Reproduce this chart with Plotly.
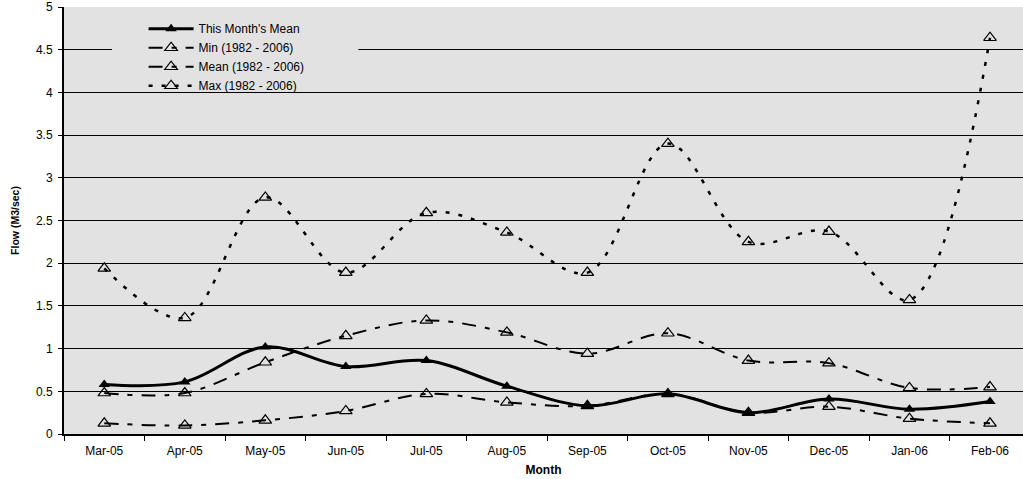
import plotly.graph_objects as go

# Monthly flow summary, March 2005 - February 2006
months = ["Mar-05", "Apr-05", "May-05", "Jun-05", "Jul-05", "Aug-05",
          "Sep-05", "Oct-05", "Nov-05", "Dec-05", "Jan-06", "Feb-06"]
this_month_mean = [0.58, 0.61, 1.02, 0.79, 0.86, 0.56, 0.33, 0.47, 0.25, 0.41, 0.29, 0.38]
min_1982_2006 = [0.125, 0.10, 0.16, 0.27, 0.47, 0.37, 0.33, 0.47, 0.25, 0.32, 0.18, 0.125]
mean_1982_2006 = [0.48, 0.48, 0.84, 1.15, 1.33, 1.19, 0.94, 1.18, 0.86, 0.83, 0.54, 0.55]
max_1982_2006 = [1.94, 1.36, 2.77, 1.89, 2.59, 2.36, 1.89, 3.40, 2.25, 2.37, 1.57, 4.64]
y_ticks = [0, 0.5, 1, 1.5, 2, 2.5, 3, 3.5, 4, 4.5, 5]

FONT = "Liberation Sans, Arial, sans-serif"
PLOT_BG = "#E2E2E2"

fig = go.Figure()

fig.add_trace(go.Scatter(
    x=months, y=this_month_mean, name="This Month's Mean",
    mode="lines+markers",
    line=dict(color="black", width=3, shape="spline", smoothing=1.0),
    marker=dict(symbol="triangle-up", size=10, color="black"),
))
fig.add_trace(go.Scatter(
    x=months, y=min_1982_2006, name="Min (1982 - 2006)",
    mode="lines+markers",
    line=dict(color="black", width=2, dash="14px,9px,5px,9px", shape="spline", smoothing=1.0),
    marker=dict(symbol="triangle-up-open", size=11, color="black", line=dict(width=1.2)),
))
fig.add_trace(go.Scatter(
    x=months, y=mean_1982_2006, name="Mean (1982 - 2006)",
    mode="lines+markers",
    line=dict(color="black", width=2, dash="14px,9px,5px,9px", shape="spline", smoothing=1.0),
    marker=dict(symbol="triangle-up-open", size=11, color="black", line=dict(width=1.2)),
))
fig.add_trace(go.Scatter(
    x=months, y=max_1982_2006, name="Max (1982 - 2006)",
    mode="lines+markers",
    line=dict(color="black", width=2.5, dash="4px,9px", shape="spline", smoothing=1.0),
    marker=dict(symbol="triangle-up-open", size=11, color="black", line=dict(width=1.2)),
))

# Legend backing panel: hides the gridline behind the legend entries
fig.add_shape(type="rect", xref="paper", yref="paper",
              x0=0.05, x1=0.307, y0=0.81, y1=0.975,
              fillcolor=PLOT_BG, line=dict(width=0), layer="above")

fig.update_layout(
    width=1023, height=479,
    margin=dict(l=64, r=0, t=7, b=45),
    paper_bgcolor="white",
    plot_bgcolor=PLOT_BG,
    font=dict(family=FONT, size=12, color="black"),
    showlegend=True,
    legend=dict(
        x=0.083, y=0.983, xanchor="left", yanchor="top",
        bgcolor="rgba(0,0,0,0)", borderwidth=0,
        font=dict(family=FONT, size=12, color="black"),
        itemwidth=45, tracegroupgap=0,
    ),
    xaxis=dict(
        type="category", categoryorder="array", categoryarray=months,
        range=[-0.5, 11.41],
        showgrid=False, zeroline=False,
        showline=True, linecolor="black", linewidth=2,
        ticks="outside", tickson="boundaries", ticklen=5, tickcolor="black",
        ticklabelstandoff=5,
        tickfont=dict(family=FONT, size=12),
        title=dict(text="<b>Month</b>", font=dict(family=FONT, size=12), standoff=8),
    ),
    yaxis=dict(
        range=[0, 5], tickvals=y_ticks,
        showgrid=True, gridcolor="black", gridwidth=1,
        zeroline=False,
        showline=True, linecolor="black", linewidth=2,
        ticks="outside", ticklen=4, tickcolor="black",
        ticklabelstandoff=3,
        tickfont=dict(family=FONT, size=12),
        title=dict(text="<b>Flow (M3/sec)</b>", font=dict(family=FONT, size=10.5), standoff=14),
    ),
)

fig.write_html("out.html")
